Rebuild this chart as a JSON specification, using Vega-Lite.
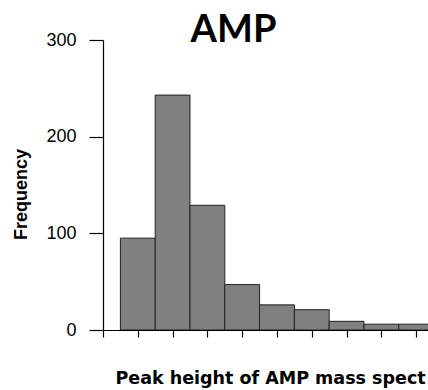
{
  "$schema": "https://vega.github.io/schema/vega-lite/v6.json",
  "width": 325,
  "height": 290,
  "autosize": "none",
  "padding": {"left": 103, "top": 40, "right": 0, "bottom": 60},
  "background": "white",
  "title": {
    "text": "AMP",
    "font": "Lato",
    "fontSize": 38,
    "fontWeight": "bold",
    "color": "black",
    "anchor": "middle",
    "frame": "group",
    "dx": -32,
    "offset": -19
  },
  "data": {
    "values": [
      {"lo": 0.5, "hi": 1.5, "count": 95},
      {"lo": 1.5, "hi": 2.5, "count": 243},
      {"lo": 2.5, "hi": 3.5, "count": 129},
      {"lo": 3.5, "hi": 4.5, "count": 47},
      {"lo": 4.5, "hi": 5.5, "count": 26},
      {"lo": 5.5, "hi": 6.5, "count": 21},
      {"lo": 6.5, "hi": 7.5, "count": 9},
      {"lo": 7.5, "hi": 8.5, "count": 6},
      {"lo": 8.5, "hi": 9.5, "count": 6}
    ]
  },
  "mark": {"type": "bar", "fill": "#808080", "stroke": "#222222", "strokeWidth": 1, "clip": true},
  "encoding": {
    "x": {
      "field": "lo",
      "type": "quantitative",
      "scale": {"domain": [0, 9.34], "nice": false, "zero": false},
      "axis": {
        "values": [0, 1, 2, 3, 4, 5, 6, 7, 8, 9],
        "labels": false,
        "grid": false,
        "tickSize": 7,
        "tickColor": "black",
        "tickWidth": 1.2,
        "domainColor": "black",
        "domainWidth": 1.2,
        "title": "Peak height of AMP mass spect",
        "titleFont": "DejaVu Sans",
        "titleFontSize": 17.5,
        "titleFontWeight": "bold",
        "titleColor": "black",
        "titleAlign": "left",
        "titleAnchor": null,
        "titleBaseline": "alphabetic",
        "titleX": 12,
        "titleY": 53
      }
    },
    "x2": {"field": "hi"},
    "y": {
      "field": "count",
      "type": "quantitative",
      "scale": {"domain": [0, 300], "nice": false},
      "axis": {
        "values": [0, 100, 200, 300],
        "grid": false,
        "tickSize": 14,
        "tickColor": "black",
        "tickWidth": 1.2,
        "domainColor": "black",
        "domainWidth": 1.2,
        "labelFont": "Liberation Sans",
        "labelFontSize": 18,
        "labelColor": "black",
        "labelPadding": 13,
        "title": "Frequency",
        "titleFont": "Liberation Sans",
        "titleFontSize": 18,
        "titleFontWeight": "bold",
        "titleColor": "black",
        "titleBaseline": "alphabetic",
        "titleAlign": "center",
        "titleAngle": -90,
        "titleX": -77,
        "titleY": 154
      }
    },
    "y2": {"datum": 0}
  },
  "config": {"view": {"stroke": null}}
}
